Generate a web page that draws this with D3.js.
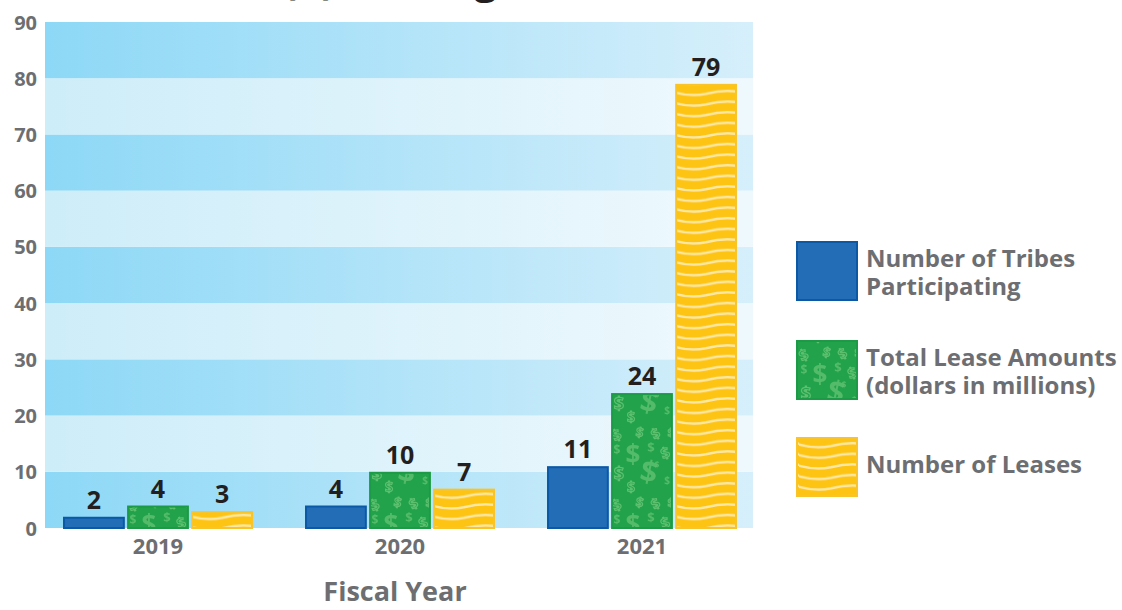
<!DOCTYPE html>
<html><head><meta charset="utf-8">
<script src="https://cdn.jsdelivr.net/npm/d3@7"></script>
<style>
html,body{margin:0;padding:0;background:#fff;}
svg{display:block;font-family:"Open Sans",sans-serif;}
</style></head>
<body><svg id="chart" width="1122" height="610"></svg>
<script>
const years = ["2019", "2020", "2021"];
const seriesNames = ["Number of Tribes Participating", "Total Lease Amounts (dollars in millions)", "Number of Leases"];
const tribes = [2, 4, 11];
const leaseAmounts = [4, 10, 24];
const leases = [3, 7, 79];
const yTicks = [0, 10, 20, 30, 40, 50, 60, 70, 80, 90];
const legendLines = [["Number of Tribes", "Participating"], ["Total Lease Amounts", "(dollars in millions)"], ["Number of Leases"]];
const titleText = "(b) Leasing";
const xTitle = "Fiscal Year";

const svg = d3.select("#chart");
const defs = svg.append("defs");
const gray = "#6d6e71";

const plotLeft = 45, plotRight = 753, yTop = 22, yBottom = 528;
const y = d3.scaleLinear().domain([0, 90]).range([yBottom, yTop]);
const x0 = d3.scaleBand().domain(years).range([37, 763]).paddingInner(0.215).paddingOuter(0.1075);
const x1 = d3.scaleBand().domain(d3.range(3)).range([0, x0.bandwidth()]).paddingInner(0.035);

function grad(id, c1, c2) {
  const g = defs.append("linearGradient").attr("id", id).attr("x1", "0").attr("x2", "1").attr("y1", "0").attr("y2", "0");
  g.append("stop").attr("offset", "0").attr("stop-color", c1);
  g.append("stop").attr("offset", "1").attr("stop-color", c2);
}
grad("gDark", "#8dd8f6", "#d6effb");
grad("gLight", "#cdedf9", "#eff9fd");

// green dollar pattern
const pG = defs.append("pattern").attr("id", "pGreen").attr("patternUnits", "userSpaceOnUse")
  .attr("width", 62).attr("height", 70).attr("x", 2).attr("y", 4);
pG.append("rect").attr("width", 62).attr("height", 70).attr("fill", "#22a24b");
// [x, y, size, rotation, outlined]
const dollars = [[8, 16, 15, -25, 1], [28, 13, 13, 10, 1], [47, 14, 14, -30, 1], [60, 12, 11, 0, 1],
  [6, 30, 12, 0, 0], [22, 40, 26, 0, 0], [40, 28, 13, 0, 0], [36, 58, 30, 12, 0], [56, 34, 15, -20, 1],
  [8, 56, 18, 0, 1], [56, 60, 10, 0, 0], [20, 68, 14, 0, 1], [46, 44, 8, 0, 0]];
dollars.forEach(d => {
  const t = pG.append("text").attr("x", d[0]).attr("y", d[1]).attr("font-size", d[2]).attr("font-weight", 700)
    .attr("text-anchor", "middle")
    .attr("transform", `rotate(${d[3]},${d[0]},${d[1]})`).text("$");
  if (d[4]) t.attr("fill", "none").attr("stroke", "#5cc06f").attr("stroke-width", 1.2);
  else t.attr("fill", "#5cc06f").attr("fill-opacity", 0.85);
});
// yellow wave pattern
const pY = defs.append("pattern").attr("id", "pYellow").attr("patternUnits", "userSpaceOnUse")
  .attr("width", 62).attr("height", 10.6).attr("x", 3).attr("y", 3);
pY.append("rect").attr("width", 62).attr("height", 10.6).attr("fill", "#fec414");
pY.append("path").attr("d", "M-2,4 C12,8 22,8 32,6 C44,3 52,2 64,4").attr("fill", "none")
  .attr("stroke", "#fde8a6").attr("stroke-width", 2.4);

// background bands
const bands = d3.range(0, 90, 10);
svg.append("g").selectAll("rect").data(bands).join("rect")
  .attr("x", plotLeft).attr("width", plotRight - plotLeft)
  .attr("y", d => y(d + 10)).attr("height", d => y(d) - y(d + 10))
  .attr("fill", d => (d / 10) % 2 === 0 ? "url(#gDark)" : "url(#gLight)");

// title (clipped at top edge as in the reference)
svg.append("text").attr("x", 283).attr("y", -6).attr("font-size", 40).attr("font-weight", 700)
  .attr("fill", "#231f20").text(titleText);

// y axis
const yAxis = svg.append("g").attr("transform", `translate(${plotLeft},0)`)
  .call(d3.axisLeft(y).tickValues(yTicks).tickSize(0).tickPadding(8));
yAxis.select(".domain").remove();
yAxis.selectAll("text").attr("font-size", 20).attr("font-weight", 700).attr("fill", gray)
  .attr("font-family", "Open Sans").attr("dy", "0.35em");

// x axis
const xAxis = svg.append("g").attr("transform", `translate(0,${yBottom})`)
  .call(d3.axisBottom(x0).tickSize(0).tickPadding(10));
xAxis.select(".domain").remove();
xAxis.selectAll("text").attr("font-size", 22).attr("font-weight", 700).attr("fill", gray)
  .attr("font-family", "Open Sans");

svg.append("text").attr("x", 395).attr("y", 601).attr("text-anchor", "middle")
  .attr("font-size", 27).attr("font-weight", 700).attr("fill", gray).text(xTitle);

// bars
const fills = ["#236cb6", "url(#pGreen)", "url(#pYellow)"];
const strokes = ["#0b58a6", "#1d9a45", "#f8c42a"];
const data = years.map((yr, i) => ({ yr, vals: [tribes[i], leaseAmounts[i], leases[i]] }));
const groups = svg.append("g").selectAll("g").data(data).join("g")
  .attr("transform", d => `translate(${x0(d.yr)},0)`);
groups.selectAll("rect").data(d => d.vals.map((v, k) => ({ v, k }))).join("rect")
  .attr("x", d => x1(d.k) + 1).attr("width", x1.bandwidth() - 2)
  .attr("y", d => y(d.v) + 1).attr("height", d => y(0) - y(d.v) - 1)
  .attr("fill", d => fills[d.k]).attr("stroke", d => strokes[d.k]).attr("stroke-width", 2);
groups.selectAll("text").data(d => d.vals.map((v, k) => ({ v, k }))).join("text")
  .attr("x", d => x1(d.k) + x1.bandwidth() / 2).attr("y", d => y(d.v) - 8)
  .attr("text-anchor", "middle").attr("font-size", 25).attr("font-weight", 700).attr("fill", "#231f20")
  .text(d => d.v);

// legend
const legY = [241, 340, 437];
const leg = svg.append("g").selectAll("g").data(seriesNames).join("g")
  .attr("transform", (d, i) => `translate(796,${legY[i]})`);
leg.append("rect").attr("x", 1).attr("y", 1).attr("width", 60).attr("height", 58)
  .attr("fill", (d, i) => fills[i]).attr("stroke", (d, i) => strokes[i]).attr("stroke-width", 2);
leg.each(function (d, i) {
  const g = d3.select(this);
  const lines = legendLines[i];
  const base = lines.length === 2 ? 26 : 36;
  lines.forEach((ln, j) => g.append("text").attr("x", 70).attr("y", base + j * 28)
    .attr("font-size", 24).attr("font-weight", 700).attr("fill", gray).text(ln));
});
</script>
</body></html>
